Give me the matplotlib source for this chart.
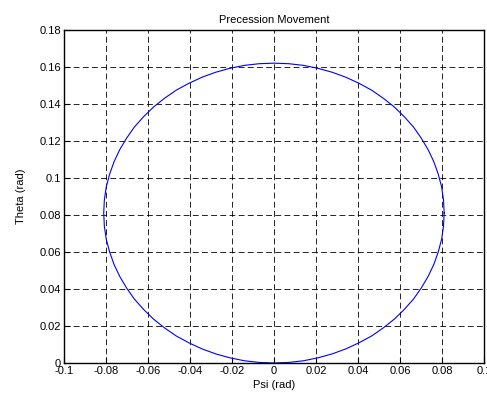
import matplotlib.pyplot as plt

plt.rcParams['font.family'] = ['Liberation Sans', 'DejaVu Sans']
plt.rcParams['font.size'] = 8

# 轨迹数据, upper half then lower half
psi = [0.0810, 0.0807, 0.0798, 0.0782, 0.0761, 0.0734, 0.0701, 0.0664, 0.0620, 0.0573,
       0.0521, 0.0465, 0.0405, 0.0342, 0.0277, 0.0210, 0.0141, 0.0071, 0.0,
       -0.0071, -0.0141, -0.0210, -0.0277, -0.0342, -0.0405, -0.0465, -0.0521, -0.0573,
       -0.0620, -0.0664, -0.0701, -0.0734, -0.0761, -0.0782, -0.0798, -0.0807, -0.0810,
       -0.0807, -0.0798, -0.0782, -0.0761, -0.0734, -0.0701, -0.0664, -0.0620, -0.0573,
       -0.0521, -0.0465, -0.0405, -0.0342, -0.0277, -0.0210, -0.0141, -0.0071, 0.0,
       0.0071, 0.0141, 0.0210, 0.0277, 0.0342, 0.0405, 0.0465, 0.0521, 0.0573,
       0.0620, 0.0664, 0.0701, 0.0734, 0.0761, 0.0782, 0.0798, 0.0807, 0.0810]
theta = [0.0810, 0.0881, 0.0951, 0.1020, 0.1087, 0.1152, 0.1215, 0.1275, 0.1331, 0.1383,
         0.1430, 0.1474, 0.1511, 0.1544, 0.1571, 0.1592, 0.1608, 0.1617, 0.1620,
         0.1617, 0.1608, 0.1592, 0.1571, 0.1544, 0.1511, 0.1474, 0.1430, 0.1383,
         0.1331, 0.1275, 0.1215, 0.1152, 0.1087, 0.1020, 0.0951, 0.0881, 0.0810,
         0.0739, 0.0669, 0.0600, 0.0533, 0.0468, 0.0405, 0.0345, 0.0289, 0.0237,
         0.0190, 0.0146, 0.0109, 0.0076, 0.0049, 0.0028, 0.0012, 0.0003, 0.0,
         0.0003, 0.0012, 0.0028, 0.0049, 0.0076, 0.0109, 0.0146, 0.0190, 0.0237,
         0.0289, 0.0345, 0.0405, 0.0468, 0.0533, 0.0600, 0.0669, 0.0739, 0.0810]
xticks = [-0.1, -0.08, -0.06, -0.04, -0.02, 0, 0.02, 0.04, 0.06, 0.08, 0.1]
xticklabels = ['-0.1', '-0.08', '-0.06', '-0.04', '-0.02', '0', '0.02', '0.04', '0.06', '0.08', '0.1']
yticks = [0, 0.02, 0.04, 0.06, 0.08, 0.1, 0.12, 0.14, 0.16, 0.18]
yticklabels = ['0', '0.02', '0.04', '0.06', '0.08', '0.1', '0.12', '0.14', '0.16', '0.18']

fig = plt.figure(figsize=(4.87, 3.98), dpi=100)
ax = fig.add_axes([0.131, 0.088, 0.863, 0.837])
ax.plot(psi, theta, color='#0000ff', linewidth=0.8)

ax.set_xlim(-0.1, 0.1)
ax.set_ylim(0, 0.18)
ax.set_xticks(xticks)
ax.set_xticklabels(xticklabels)
ax.set_yticks(yticks)
ax.set_yticklabels(yticklabels)
ax.tick_params(direction='in', length=4, width=0.8, pad=2)
ax.grid(True, color='black', linestyle=(0, (7, 4)), linewidth=0.6)
for s in ax.spines.values():
    s.set_linewidth(1.0)

ax.set_title('Precession Movement', fontsize=8, pad=5)
ax.set_xlabel('Psi (rad)', labelpad=3)
ax.set_ylabel('Theta (rad)', labelpad=10)

fig.savefig('out.png', dpi=100)
